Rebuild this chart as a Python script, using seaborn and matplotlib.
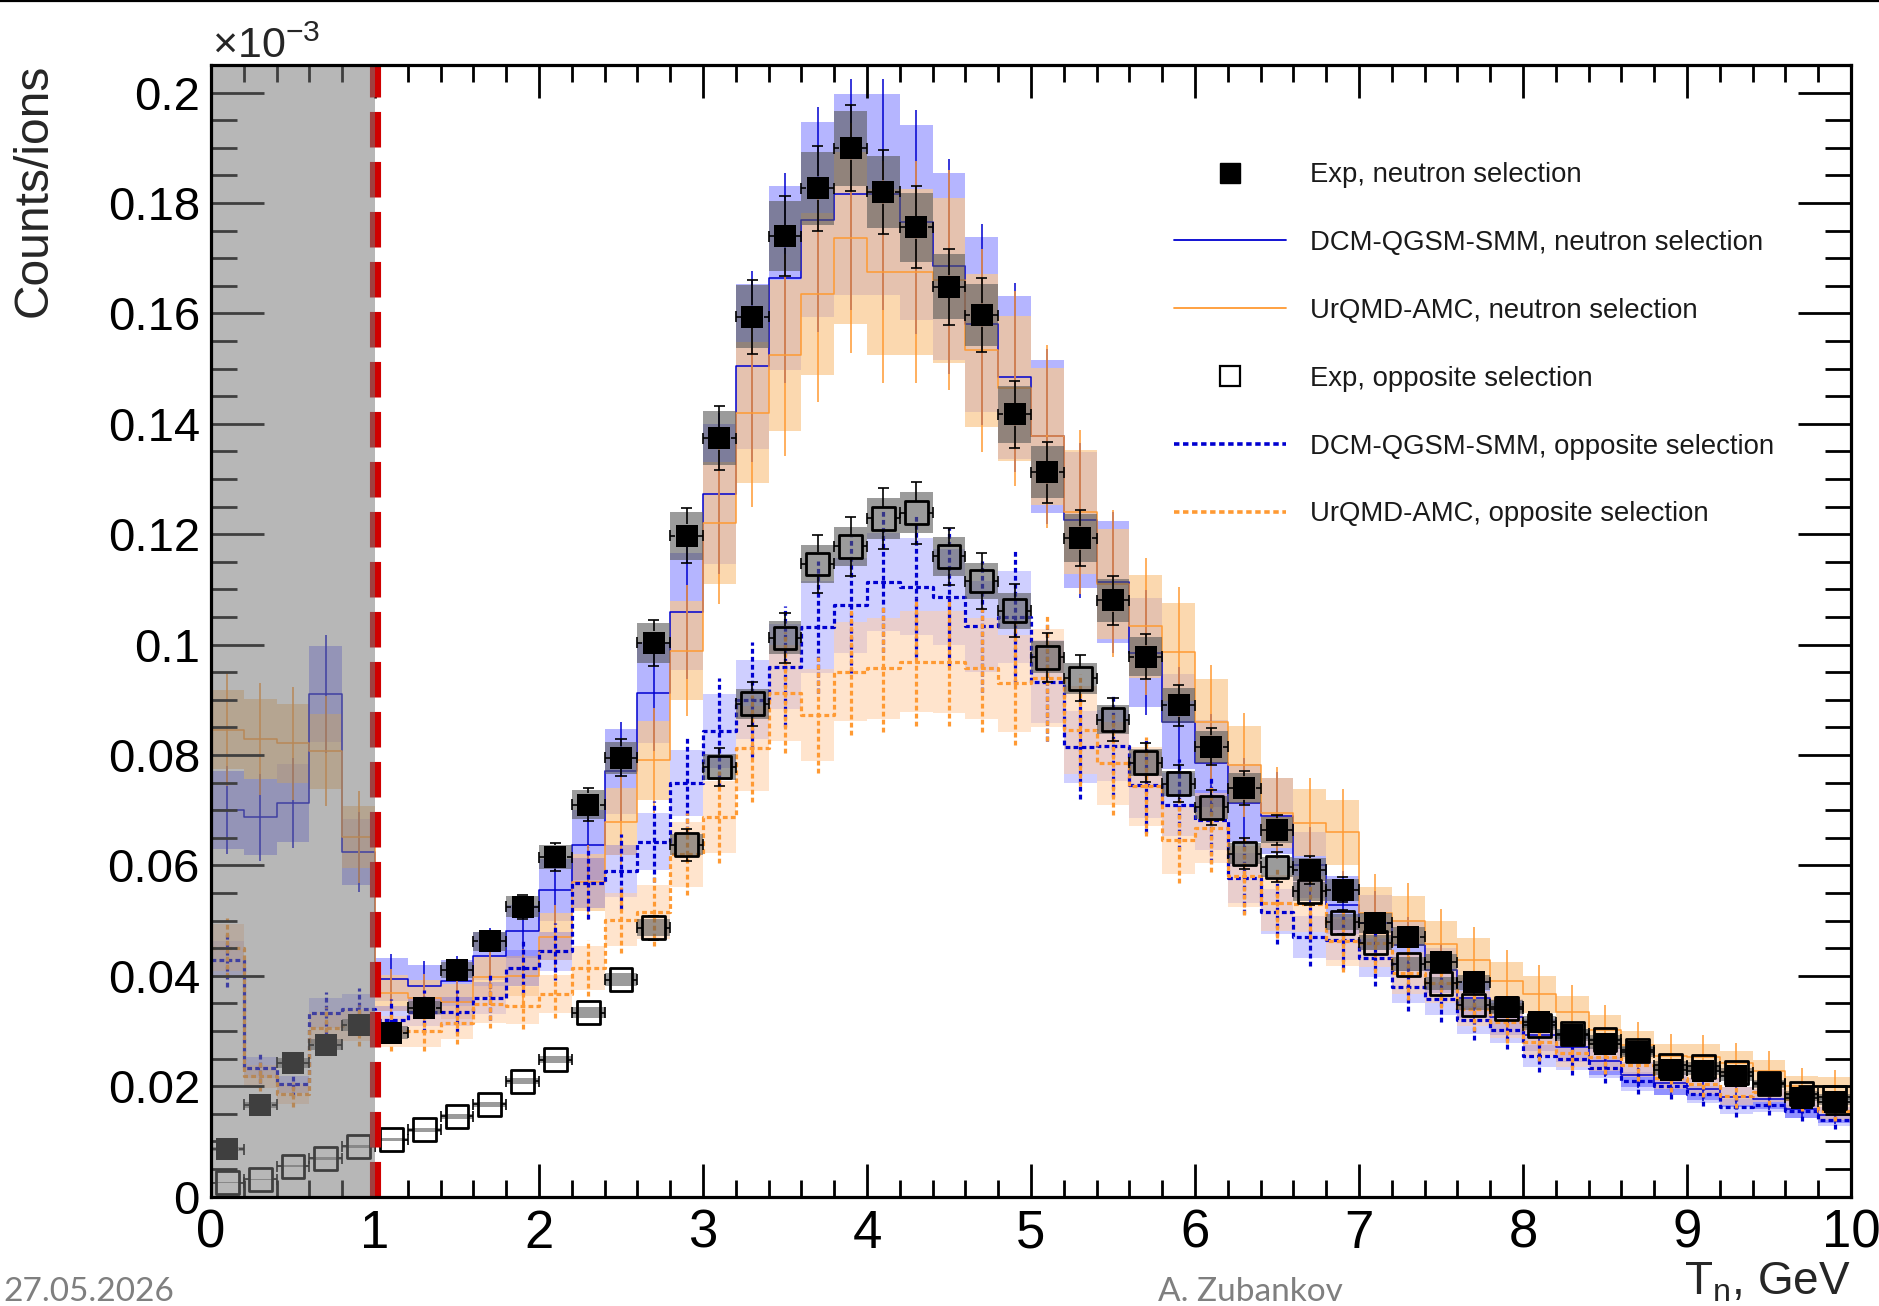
import numpy as np
import pandas as pd
import matplotlib
matplotlib.use("Agg")
import matplotlib.pyplot as plt
from matplotlib.lines import Line2D
from matplotlib.ticker import MultipleLocator
import seaborn as sns

sns.set_theme(style="ticks")
plt.rcParams["font.family"] = ["Liberation Sans", "DejaVu Sans"]
plt.rcParams["mathtext.fontset"] = "custom"
plt.rcParams["mathtext.rm"] = "Liberation Sans"
plt.rcParams["mathtext.it"] = "Liberation Sans:italic"
plt.rcParams["mathtext.default"] = "regular"

# 50 bins of 0.2 GeV, yields given in units of 1e-3 counts/ion (as on the axis)
bin_edges = np.linspace(0, 10, 51)
bin_centers = 0.5 * (bin_edges[:-1] + bin_edges[1:])

# --- experiment, neutron selection
exp_n = [0.0086, 0.0166, 0.0242, 0.0275, 0.0310, 0.0297, 0.0342, 0.0410, 0.0462, 0.0525,
         0.0615, 0.0710, 0.0795, 0.1003, 0.1197, 0.1374, 0.1594, 0.1740, 0.1827, 0.1899,
         0.1820, 0.1756, 0.1648, 0.1597, 0.1417, 0.1312, 0.1193, 0.1080, 0.0978, 0.0890,
         0.0815, 0.0740, 0.0664, 0.0592, 0.0556, 0.0496, 0.0471, 0.0424, 0.0388, 0.0344,
         0.0316, 0.0292, 0.0277, 0.0261, 0.0229, 0.0228, 0.0218, 0.0203, 0.0179, 0.0172]
exp_n_stat = [0.0004, 0.0007, 0.0010, 0.0012, 0.0013, 0.0012, 0.0014, 0.0017, 0.0019, 0.0022,
              0.0026, 0.0030, 0.0033, 0.0042, 0.0050, 0.0058, 0.0067, 0.0073, 0.0077, 0.0078,
              0.0076, 0.0074, 0.0069, 0.0067, 0.0060, 0.0055, 0.0050, 0.0045, 0.0041, 0.0037,
              0.0034, 0.0031, 0.0028, 0.0025, 0.0023, 0.0021, 0.0020, 0.0018, 0.0016, 0.0014,
              0.0013, 0.0012, 0.0012, 0.0011, 0.0010, 0.0010, 0.0009, 0.0009, 0.0008, 0.0007]
exp_n_sys = [0.0003, 0.0006, 0.0009, 0.0010, 0.0011, 0.0011, 0.0012, 0.0015, 0.0017, 0.0019,
             0.0022, 0.0026, 0.0029, 0.0036, 0.0043, 0.0049, 0.0057, 0.0063, 0.0066, 0.0068,
             0.0066, 0.0063, 0.0059, 0.0057, 0.0051, 0.0047, 0.0043, 0.0039, 0.0035, 0.0032,
             0.0029, 0.0027, 0.0024, 0.0021, 0.0020, 0.0018, 0.0017, 0.0015, 0.0014, 0.0012,
             0.0011, 0.0011, 0.0010, 0.0009, 0.0008, 0.0008, 0.0008, 0.0007, 0.0006, 0.0006]

# --- experiment, opposite selection
exp_o = [0.0025, 0.0031, 0.0055, 0.0069, 0.0091, 0.0103, 0.0121, 0.0145, 0.0167, 0.0209,
         0.0248, 0.0333, 0.0393, 0.0487, 0.0637, 0.0778, 0.0893, 0.1012, 0.1146, 0.1178,
         0.1229, 0.1239, 0.1160, 0.1115, 0.1061, 0.0977, 0.0939, 0.0864, 0.0786, 0.0748,
         0.0705, 0.0621, 0.0597, 0.0553, 0.0497, 0.0460, 0.0421, 0.0386, 0.0347, 0.0340,
         0.0310, 0.0295, 0.0284, 0.0265, 0.0238, 0.0236, 0.0225, 0.0205, 0.0186, 0.0180]
exp_o_stat = [0.0002, 0.0002, 0.0003, 0.0003, 0.0004, 0.0005, 0.0005, 0.0006, 0.0007, 0.0009,
              0.0011, 0.0015, 0.0018, 0.0022, 0.0029, 0.0035, 0.0040, 0.0046, 0.0052, 0.0053,
              0.0055, 0.0056, 0.0052, 0.0050, 0.0048, 0.0044, 0.0042, 0.0039, 0.0035, 0.0034,
              0.0032, 0.0028, 0.0027, 0.0025, 0.0022, 0.0021, 0.0019, 0.0017, 0.0016, 0.0015,
              0.0014, 0.0013, 0.0013, 0.0012, 0.0011, 0.0011, 0.0010, 0.0009, 0.0008, 0.0008]
exp_o_sys = [0.0001, 0.0001, 0.0002, 0.0002, 0.0003, 0.0003, 0.0004, 0.0004, 0.0005, 0.0006,
             0.0007, 0.0010, 0.0012, 0.0015, 0.0019, 0.0023, 0.0027, 0.0030, 0.0034, 0.0035,
             0.0037, 0.0037, 0.0035, 0.0033, 0.0032, 0.0029, 0.0028, 0.0026, 0.0024, 0.0022,
             0.0021, 0.0019, 0.0018, 0.0017, 0.0015, 0.0014, 0.0013, 0.0012, 0.0010, 0.0010,
             0.0009, 0.0009, 0.0009, 0.0008, 0.0007, 0.0007, 0.0007, 0.0006, 0.0006, 0.0005]

# --- DCM-QGSM-SMM, neutron selection
dcm_n = [0.0700, 0.0687, 0.0713, 0.0910, 0.0624, 0.0394, 0.0382, 0.0390, 0.0436, 0.0481,
         0.0556, 0.0637, 0.0770, 0.0913, 0.1059, 0.1273, 0.1504, 0.1664, 0.1770, 0.1816,
         0.1816, 0.1765, 0.1685, 0.1580, 0.1484, 0.1377, 0.1225, 0.1113, 0.0985, 0.0860,
         0.0785, 0.0713, 0.0690, 0.0600, 0.0528, 0.0496, 0.0455, 0.0410, 0.0360, 0.0325,
         0.0293, 0.0270, 0.0245, 0.0221, 0.0205, 0.0195, 0.0180, 0.0177, 0.0158, 0.0148]
dcm_n_band = [0.0070, 0.0069, 0.0071, 0.0087, 0.0060, 0.0039, 0.0038, 0.0039, 0.0044, 0.0048,
              0.0056, 0.0064, 0.0077, 0.0091, 0.0106, 0.0127, 0.0150, 0.0166, 0.0177, 0.0182,
              0.0182, 0.0177, 0.0169, 0.0158, 0.0148, 0.0138, 0.0123, 0.0111, 0.0099, 0.0086,
              0.0079, 0.0071, 0.0069, 0.0060, 0.0053, 0.0050, 0.0046, 0.0041, 0.0036, 0.0033,
              0.0029, 0.0027, 0.0025, 0.0022, 0.0021, 0.0020, 0.0018, 0.0018, 0.0016, 0.0015]
dcm_n_stat = [0.0080, 0.0079, 0.0082, 0.0107, 0.0072, 0.0045, 0.0044, 0.0045, 0.0050, 0.0055,
              0.0064, 0.0073, 0.0089, 0.0105, 0.0122, 0.0146, 0.0173, 0.0191, 0.0204, 0.0209,
              0.0209, 0.0203, 0.0194, 0.0182, 0.0171, 0.0158, 0.0141, 0.0128, 0.0113, 0.0099,
              0.0090, 0.0082, 0.0079, 0.0069, 0.0061, 0.0057, 0.0052, 0.0047, 0.0041, 0.0037,
              0.0034, 0.0031, 0.0028, 0.0025, 0.0024, 0.0022, 0.0021, 0.0020, 0.0018, 0.0017]

# --- UrQMD-AMC, neutron selection
urq_n = [0.0846, 0.0829, 0.0821, 0.0807, 0.0651, 0.0369, 0.0360, 0.0353, 0.0398, 0.0400,
         0.0471, 0.0569, 0.0679, 0.0790, 0.0989, 0.1220, 0.1420, 0.1524, 0.1635, 0.1737,
         0.1675, 0.1675, 0.1660, 0.1533, 0.1464, 0.1377, 0.1240, 0.1110, 0.1033, 0.0987,
         0.0860, 0.0782, 0.0695, 0.0677, 0.0660, 0.0514, 0.0500, 0.0458, 0.0429, 0.0390,
         0.0366, 0.0334, 0.0302, 0.0275, 0.0254, 0.0253, 0.0242, 0.0227, 0.0200, 0.0198]
urq_n_band = [0.0071, 0.0072, 0.0072, 0.0068, 0.0056, 0.0033, 0.0032, 0.0032, 0.0036, 0.0036,
              0.0042, 0.0051, 0.0061, 0.0071, 0.0089, 0.0110, 0.0128, 0.0137, 0.0147, 0.0156,
              0.0151, 0.0151, 0.0149, 0.0138, 0.0132, 0.0124, 0.0112, 0.0100, 0.0093, 0.0089,
              0.0077, 0.0070, 0.0063, 0.0061, 0.0059, 0.0046, 0.0045, 0.0041, 0.0039, 0.0035,
              0.0033, 0.0030, 0.0027, 0.0025, 0.0023, 0.0023, 0.0022, 0.0020, 0.0018, 0.0018]
urq_n_stat = [0.0103, 0.0102, 0.0102, 0.0099, 0.0083, 0.0044, 0.0043, 0.0042, 0.0048, 0.0048,
              0.0057, 0.0068, 0.0081, 0.0095, 0.0119, 0.0146, 0.0170, 0.0183, 0.0196, 0.0208,
              0.0201, 0.0201, 0.0199, 0.0184, 0.0176, 0.0165, 0.0149, 0.0133, 0.0124, 0.0118,
              0.0103, 0.0094, 0.0083, 0.0081, 0.0079, 0.0070, 0.0068, 0.0062, 0.0060, 0.0056,
              0.0053, 0.0050, 0.0045, 0.0042, 0.0040, 0.0039, 0.0037, 0.0036, 0.0033, 0.0032]

# --- DCM-QGSM-SMM, opposite selection
dcm_o = [0.0429, 0.0233, 0.0203, 0.0333, 0.0339, 0.0320, 0.0335, 0.0335, 0.0360, 0.0414,
         0.0444, 0.0568, 0.0589, 0.0643, 0.0749, 0.0843, 0.0900, 0.0960, 0.1032, 0.1071,
         0.1114, 0.1105, 0.1086, 0.1033, 0.1050, 0.0933, 0.0815, 0.0817, 0.0745, 0.0710,
         0.0682, 0.0577, 0.0516, 0.0471, 0.0465, 0.0432, 0.0380, 0.0357, 0.0320, 0.0302,
         0.0254, 0.0250, 0.0233, 0.0209, 0.0200, 0.0185, 0.0163, 0.0166, 0.0154, 0.0139]
dcm_o_band = [0.0034, 0.0019, 0.0016, 0.0027, 0.0027, 0.0026, 0.0027, 0.0027, 0.0029, 0.0033,
              0.0036, 0.0045, 0.0047, 0.0051, 0.0060, 0.0067, 0.0072, 0.0077, 0.0083, 0.0086,
              0.0089, 0.0088, 0.0087, 0.0083, 0.0084, 0.0075, 0.0065, 0.0065, 0.0060, 0.0057,
              0.0055, 0.0046, 0.0041, 0.0038, 0.0037, 0.0035, 0.0030, 0.0029, 0.0026, 0.0024,
              0.0020, 0.0020, 0.0019, 0.0017, 0.0016, 0.0015, 0.0013, 0.0013, 0.0012, 0.0011]
dcm_o_stat = [0.0049, 0.0027, 0.0023, 0.0038, 0.0039, 0.0037, 0.0039, 0.0039, 0.0041, 0.0048,
              0.0051, 0.0065, 0.0068, 0.0074, 0.0086, 0.0097, 0.0104, 0.0110, 0.0119, 0.0123,
              0.0128, 0.0127, 0.0125, 0.0119, 0.0121, 0.0107, 0.0094, 0.0094, 0.0086, 0.0082,
              0.0078, 0.0066, 0.0059, 0.0054, 0.0053, 0.0050, 0.0044, 0.0041, 0.0037, 0.0035,
              0.0029, 0.0029, 0.0027, 0.0024, 0.0023, 0.0021, 0.0019, 0.0019, 0.0018, 0.0016]

# --- UrQMD-AMC, opposite selection
urq_o = [0.0451, 0.0218, 0.0185, 0.0306, 0.0310, 0.0299, 0.0300, 0.0315, 0.0348, 0.0346,
         0.0367, 0.0414, 0.0501, 0.0516, 0.0620, 0.0688, 0.0812, 0.0913, 0.0872, 0.0951,
         0.0957, 0.0969, 0.0968, 0.0957, 0.0930, 0.0939, 0.0845, 0.0785, 0.0743, 0.0646,
         0.0668, 0.0580, 0.0532, 0.0530, 0.0462, 0.0460, 0.0405, 0.0387, 0.0340, 0.0317,
         0.0280, 0.0260, 0.0252, 0.0239, 0.0215, 0.0204, 0.0182, 0.0189, 0.0176, 0.0154]
urq_o_band = [0.0043, 0.0021, 0.0018, 0.0029, 0.0029, 0.0028, 0.0029, 0.0030, 0.0033, 0.0033,
              0.0035, 0.0039, 0.0048, 0.0049, 0.0059, 0.0065, 0.0077, 0.0087, 0.0083, 0.0090,
              0.0091, 0.0092, 0.0092, 0.0091, 0.0088, 0.0089, 0.0080, 0.0075, 0.0071, 0.0061,
              0.0063, 0.0055, 0.0051, 0.0050, 0.0044, 0.0044, 0.0038, 0.0037, 0.0032, 0.0030,
              0.0027, 0.0025, 0.0024, 0.0023, 0.0020, 0.0019, 0.0017, 0.0018, 0.0017, 0.0015]
urq_o_stat = [0.0054, 0.0026, 0.0022, 0.0037, 0.0037, 0.0036, 0.0036, 0.0038, 0.0042, 0.0042,
              0.0044, 0.0050, 0.0060, 0.0062, 0.0074, 0.0083, 0.0097, 0.0110, 0.0105, 0.0114,
              0.0115, 0.0116, 0.0116, 0.0115, 0.0112, 0.0113, 0.0101, 0.0094, 0.0089, 0.0078,
              0.0080, 0.0070, 0.0064, 0.0064, 0.0055, 0.0055, 0.0049, 0.0046, 0.0041, 0.0038,
              0.0034, 0.0031, 0.0030, 0.0029, 0.0026, 0.0024, 0.0022, 0.0023, 0.0021, 0.0018]

labels = ["Exp, neutron selection",
          "DCM-QGSM-SMM, neutron selection",
          "UrQMD-AMC, neutron selection",
          "Exp, opposite selection",
          "DCM-QGSM-SMM, opposite selection",
          "UrQMD-AMC, opposite selection"]

x_ticks = [0, 1, 2, 3, 4, 5, 6, 7, 8, 9, 10]
x_tick_labels = ["0", "1", "2", "3", "4", "5", "6", "7", "8", "9", "10"]
y_ticks = [0, 0.02, 0.04, 0.06, 0.08, 0.10, 0.12, 0.14, 0.16, 0.18, 0.20]
y_tick_labels = ["0", "0.02", "0.04", "0.06", "0.08", "0.1", "0.12", "0.14", "0.16", "0.18", "0.2"]

BLUE = "#0000d0"
ORANGE = "#ff9a33"
DOTTED = (0, (1.5, 1.0))

# marker half-size and cap half-length, in data units (x, y)
MK_HX, MK_HY = 0.07, 0.0021
CAP_HX, CAP_HY = 0.034, 0.001


def draw_model(ax, vals, band, stat, color, band_color, band_alpha, ls, lw, z):
    vals = np.asarray(vals)
    band = np.asarray(band)
    stat = np.asarray(stat)
    lo = np.append(vals - band, vals[-1] - band[-1])
    hi = np.append(vals + band, vals[-1] + band[-1])
    ax.fill_between(bin_edges, lo, hi, step="post", color=band_color,
                    alpha=band_alpha, linewidth=0, zorder=z)
    df = pd.DataFrame({"T": bin_centers, "w": vals})
    sns.histplot(data=df, x="T", weights="w", bins=list(bin_edges), element="step",
                 fill=False, color=color, linewidth=lw, linestyle=ls, ax=ax,
                 zorder=z + 3)
    ax.vlines(bin_centers, vals - stat, vals + stat, colors=color,
              linewidth=lw, linestyles=ls, zorder=z + 3)


def draw_exp(ax, vals, stat, sys, filled, z):
    vals = np.asarray(vals)
    sys = np.asarray(sys)
    stat = np.asarray(stat)
    c = bin_centers
    ax.bar(c, 2 * sys, bottom=vals - sys, width=0.2,
           color="#595959", alpha=0.6, linewidth=0, zorder=z)
    # error bars stop at the marker edge, as in ROOT
    kw = dict(colors="black", linewidth=1.2, zorder=z + 1)
    ax.hlines(vals, c - 0.1, c - MK_HX, **kw)
    ax.hlines(vals, c + MK_HX, c + 0.1, **kw)
    ax.vlines(c - 0.1, vals - CAP_HY, vals + CAP_HY, **kw)
    ax.vlines(c + 0.1, vals - CAP_HY, vals + CAP_HY, **kw)
    big = stat > MK_HY
    cb, vb, sb = c[big], vals[big], stat[big]
    ax.vlines(cb, vb + MK_HY, vb + sb, **kw)
    ax.vlines(cb, vb - sb, vb - MK_HY, **kw)
    ax.hlines(vb + sb, cb - CAP_HX, cb + CAP_HX, **kw)
    ax.hlines(vb - sb, cb - CAP_HX, cb + CAP_HX, **kw)
    df = pd.DataFrame({"T": c, "y": vals})
    sns.scatterplot(data=df, x="T", y="y", marker="s", s=270, color="black",
                    linewidth=0 if filled else 2.0, ax=ax, zorder=z + 2)
    if not filled:
        ax.collections[-1].set_facecolor("none")
        ax.collections[-1].set_edgecolor("black")


fig = plt.figure(figsize=(18.79, 13.06), dpi=100)
ax = fig.add_axes([211 / 1879, 1 - 1196.5 / 1306, 1640 / 1879, 1131.5 / 1306])

draw_model(ax, dcm_n, dcm_n_band, dcm_n_stat, BLUE, "#0000ff", 0.29, "-", 1.1, 2.0)
draw_model(ax, urq_n, urq_n_band, urq_n_stat, ORANGE, "#fac88e", 0.70, "-", 1.1, 2.1)
draw_model(ax, dcm_o, dcm_o_band, dcm_o_stat, BLUE, "#0000ff", 0.19, DOTTED, 2.3, 2.2)
draw_model(ax, urq_o, urq_o_band, urq_o_stat, ORANGE, "#ffcea4", 0.55, DOTTED, 2.3, 2.3)

draw_exp(ax, exp_o, exp_o_stat, exp_o_sys, False, 7)
draw_exp(ax, exp_n, exp_n_stat, exp_n_sys, True, 7.5)

# excluded low-energy region and its boundary
ax.axvline(1.0, color="#d00000", lw=8.0, ls=(0, (3.2, 1.3)), zorder=19)
ax.axvspan(0, 1, color="#787878", alpha=0.53, lw=0, zorder=20)

ax.set_xlim(0, 10)
ax.set_ylim(0, 0.205)
ax.set_xticks(x_ticks)
ax.set_xticklabels(x_tick_labels)
ax.set_yticks(y_ticks)
ax.set_yticklabels(y_tick_labels)
ax.xaxis.set_minor_locator(MultipleLocator(0.2))
ax.yaxis.set_minor_locator(MultipleLocator(0.005))
ax.tick_params(which="both", direction="in", top=True, right=True,
               width=2, color="black", labelcolor="black")
ax.tick_params(axis="x", which="major", length=24, labelsize=38, pad=9)
ax.tick_params(axis="x", which="minor", length=12)
ax.tick_params(axis="y", which="major", length=38, labelsize=34, pad=8)
ax.tick_params(axis="y", which="minor", length=19)
ax.xaxis.set_zorder(15)
ax.yaxis.set_zorder(15)
ax.set_xlabel("")
ax.set_ylabel("")
for sp in ax.spines.values():
    sp.set_linewidth(2.3)
    sp.set_color("black")
    sp.set_zorder(25)

handles = [
    Line2D([], [], ls="none", marker="s", ms=14, mfc="black", mec="black"),
    Line2D([], [], color=BLUE, lw=1.3),
    Line2D([], [], color=ORANGE, lw=1.3),
    Line2D([], [], ls="none", marker="s", ms=14, mfc="none", mec="black", mew=1.6),
    Line2D([], [], color=BLUE, lw=2.6, ls=DOTTED),
    Line2D([], [], color=ORANGE, lw=2.6, ls=DOTTED),
]
ax.legend(handles, labels, loc="upper left", bbox_to_anchor=(0.587, 0.914),
          frameon=False, fontsize=19.8, handlelength=4.1, handletextpad=0.87,
          labelspacing=1.52, borderpad=0, borderaxespad=0, labelcolor="#1a1a1a")

fig.text(212 / 1879, 1 - 58 / 1306, r"$\times10^{-3}$", fontsize=31,
         ha="left", va="baseline")
fig.text(34 / 1879, 1 - 64 / 1306, "Counts/ions", rotation=90, fontsize=34.5,
         ha="center", va="top")
fig.text(1851 / 1879, 1 - 1294 / 1306, r"T$_{n}$, GeV", fontsize=33,
         ha="right", va="baseline")
fig.text(3 / 1879, 5 / 1306, "27.05.2026", fontsize=24, color="#7f7f7f",
         family="Lato", ha="left", va="baseline")
fig.text(1158 / 1879, 5 / 1306, "A. Zubankov", fontsize=24, color="#7f7f7f",
         family="Lato", ha="left", va="baseline")
fig.add_artist(Line2D([0, 1], [1 - 1 / 1306, 1 - 1 / 1306],
                      transform=fig.transFigure, color="black", lw=1.6))

fig.savefig("out.png", dpi=100)
plt.close(fig)
